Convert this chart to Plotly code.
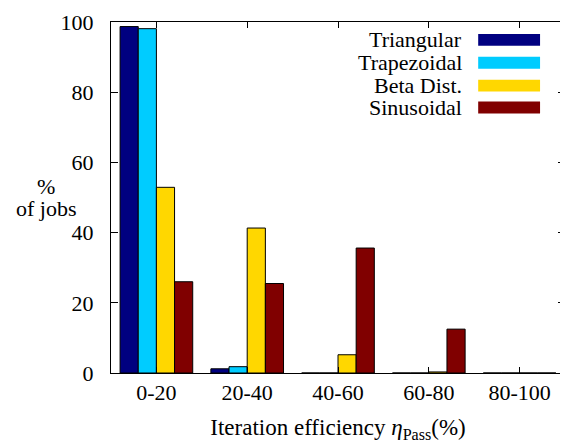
import plotly.graph_objects as go

categories = ["0-20", "20-40", "40-60", "60-80", "80-100"]
series_names = ["Triangular", "Trapezoidal", "Beta Dist.", "Sinusoidal"]
triangular = [98.7, 1.2, 0.0, 0.0, 0.0]
trapezoidal = [98.1, 1.8, 0.0, 0.0, 0.0]
beta_dist = [52.9, 41.3, 5.2, 0.3, 0.0]
sinusoidal = [26.0, 25.5, 35.6, 12.5, 0.0]
colors = ["#000080", "#00CCFF", "#FFD700", "#800000"]
y_ticks = [0, 20, 40, 60, 80, 100]

FONT = "Liberation Serif"
FS = 22

fig = go.Figure()
for name, vals, col in zip(series_names, [triangular, trapezoidal, beta_dist, sinusoidal], colors):
    fig.add_trace(go.Bar(
        x=categories, y=vals, name=name,
        marker=dict(color=col, line=dict(color="black", width=1)),
        showlegend=False,
    ))

# page body has an 8px margin, so figure coords = screen coords - 8
OFF = 8
W, H = 560, 435
L, R, T, B = 111 - OFF, 2, 20 - OFF, 70
pw, ph = W - L - R, H - T - B

def px(x):
    return (x - OFF - L) / pw

def py(y):
    return (H - B - (y - OFF)) / ph

annotations = []
shapes = []
legend_y = [38, 61, 84, 106]
for name, col, yy in zip(series_names, colors, legend_y):
    annotations.append(dict(
        x=px(465), y=py(yy), xref="paper", yref="paper", text=name,
        showarrow=False, xanchor="right", yanchor="middle",
        font=dict(family=FONT, size=FS, color="black"),
    ))
    shapes.append(dict(
        type="rect", xref="paper", yref="paper",
        x0=px(479), x1=px(541), y0=py(yy + 6), y1=py(yy - 6),
        fillcolor=col, line=dict(width=0),
    ))

for txt, yy in [("%", 185), ("of jobs", 208)]:
    annotations.append(dict(
        x=px(46), y=py(yy), xref="paper", yref="paper",
        text=txt, showarrow=False, xanchor="center", yanchor="middle",
        font=dict(family=FONT, size=FS, color="black"),
    ))

fig.update_layout(
    width=W, height=H,
    margin=dict(l=L, r=R, t=T, b=B),
    plot_bgcolor="white", paper_bgcolor="white",
    barmode="group", bargap=0.2, bargroupgap=0,
    font=dict(family=FONT, size=FS, color="black"),
    annotations=annotations, shapes=shapes,
    xaxis=dict(
        type="category", range=[-0.5, 4.5],
        showline=True, linecolor="black", linewidth=1, mirror="ticks",
        ticks="inside", ticklen=6, tickcolor="black",
        showgrid=False, tickfont=dict(family=FONT, size=FS),
        title=dict(text="Iteration efficiency <i>η</i><sub>Pass</sub>(%)",
                   font=dict(family=FONT, size=23), standoff=15),
    ),
    yaxis=dict(
        range=[0, 100], tickvals=y_ticks,
        showline=True, linecolor="black", linewidth=1, mirror="ticks",
        ticks="inside", ticklen=7, tickcolor="black",
        showgrid=False, zeroline=False, tickfont=dict(family=FONT, size=FS),
        ticklabelstandoff=12, ticklabeloverflow="allow",
    ),
)

fig.write_html("out.html")
